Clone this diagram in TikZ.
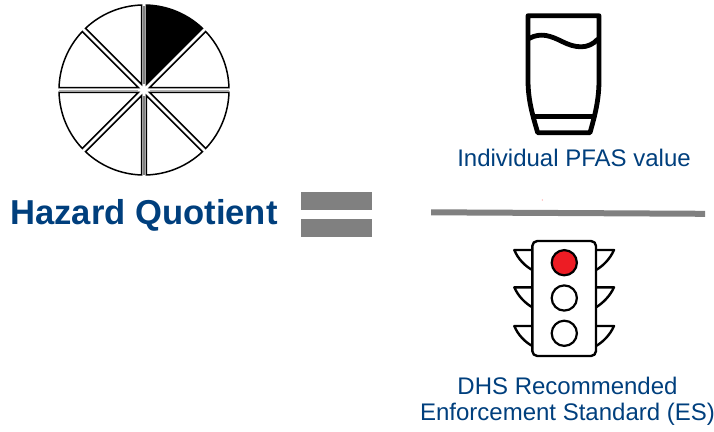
\documentclass[tikz,border=0pt]{standalone}
\usepackage{fontspec}
\setmainfont{Liberation Sans}
\definecolor{navy}{HTML}{003F7D}
\definecolor{barg}{HTML}{808080}
\definecolor{lampred}{HTML}{ED1C24}
\tikzset{
  sector/.style={draw=black,line width=1.5pt,fill=white,line join=miter},
  bar/.style={fill=barg,draw=none},
  icon/.style={draw=black,line width=4.8pt,line join=round,line cap=round},
  light/.style={draw=black,line width=2.4pt,line join=round},
  lamp/.style={draw=black,line width=2.2pt,fill=white},
  label/.style={text=navy,font=\fontsize{24}{28}\selectfont,inner sep=0pt,align=center},
  title/.style={text=navy,font=\fontsize{34.6}{40}\bfseries\selectfont,inner sep=0pt}
}
\begin{document}
\begin{tikzpicture}[x=1pt,y=-1pt]
\useasboundingbox (0,0) rectangle (714,431);
% pie
\foreach \a/\c in {0/white,45/black,90/white,135/white,180/white,225/white,270/white,315/white}{
  \begin{scope}[shift={(144,90)},y=1pt]
  \draw[sector,fill=\c] (\a+22.5:6pt) -- (\a+1.55:85pt) arc[start angle=\a+1.55,end angle=\a+43.45,radius=85pt] -- cycle;
  \end{scope}
}
\draw[barg,line width=1.6pt] (144,6) -- (144,84);
\draw[barg,line width=1.6pt] (144,96) -- (144,175);
\draw[barg!60,line width=1pt] (59,90) -- (138,90);
\draw[barg!60,line width=1pt] (150,90) -- (229,90);
% equals and fraction bar
\fill[bar] (301,192.3) rectangle (372,210.3);
\fill[bar] (301,219) rectangle (372,237);
\fill[bar] (431,209.3) -- (705,210.8) -- (705,216.8) -- (431,215.3) -- cycle;
\fill[red!35] (542.4,200) circle (0.7);
% glass
\draw[icon] (528,15.7) -- (599,15.7) -- (599,80) .. controls (599,100) and (595,115) .. (590,132.7) -- (537.7,132.7) .. controls (532.5,115) and (528,100) .. (528,80) -- cycle;
\draw[icon] (533.5,116.7) -- (594,116.7);
\draw[icon,line cap=butt] (529,38.5) .. controls (541,32) and (551,36) .. (562,41.5) .. controls (575,48) and (588,50) .. (598,39);
% traffic light
\draw[light] (532.3,250) -- (514.3,250) .. controls (518,259) and (525,266) .. (532.3,270);
\draw[light] (532.3,287.3) -- (514.3,287.3) .. controls (518,296) and (525,303) .. (532.3,307.3);
\draw[light] (532.3,326) -- (514.3,326) .. controls (518,335) and (525,342) .. (532.3,346);
\draw[light] (596,250) -- (614,250) .. controls (610,259) and (603,266) .. (596,270);
\draw[light] (596,287.3) -- (614,287.3) .. controls (610,296) and (603,303) .. (596,307.3);
\draw[light] (596,326) -- (614,326) .. controls (610,335) and (603,342) .. (596,346);
\draw[light,rounded corners=5pt] (532.3,241) rectangle (596,356);
\draw[lamp,fill=lampred] (564.3,262.7) circle (12.6);
\draw[lamp] (564.3,298) circle (12.6);
\draw[lamp] (564.3,333.3) circle (12.6);
% texts
\node[title] (hq) at (144,215.5) {Hazard Quotient};
\node[label] (pfas) at (574,158) {Individual PFAS value};
\node[label] (dhs) at (567.5,386) {DHS Recommended};
\node[label] (es) at (567.5,414.5) {Enforcement Standard (ES)};
\end{tikzpicture}
\end{document}
